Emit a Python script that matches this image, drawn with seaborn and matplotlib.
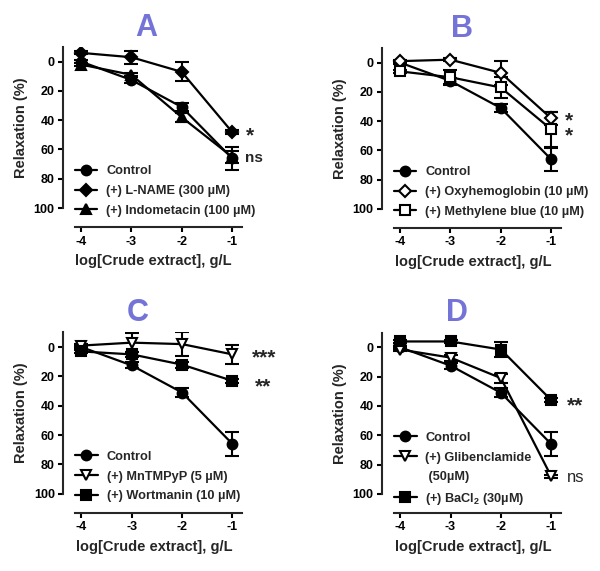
import numpy as np
import pandas as pd
import matplotlib
matplotlib.use('Agg')
import matplotlib.pyplot as plt
from matplotlib.lines import Line2D
import seaborn as sns

# ------------------------------------------------------------
# data
# ------------------------------------------------------------
log_conc = [-4, -3, -2, -1]

control = [0, 12.5, 31, 66]
control_err = [1, 2, 3, 8]

# panel A
lname = [-6, -3, 7, 48]
lname_err = [1, 4.5, 6.5, 1.5]
indomet = [2, 9, 38, 65]
indomet_err = [1, 1, 3, 4]

# panel B
oxyhb = [-1, -2, 7, 38]
oxyhb_err = [1, 1, 8, 4.5]
methblue = [6, 10, 17, 45.5]
methblue_err = [1, 5, 7.5, 12]

# panel C
mntmpyp = [-1, -3, -2, 5]
mntmpyp_err = [1, 6.5, 8, 6.5]
wortmanin = [3, 5, 12, 23]
wortmanin_err = [1, 1.5, 2, 1.5]

# panel D
glib = [1.5, 7, 21, 88]
glib_err = [1, 2, 3, 1]
bacl2 = [-4, -4, 1.5, 36]
bacl2_err = [1, 1, 5, 1.5]

yticks = [0, 20, 40, 60, 80, 100]

sns.set_style('ticks')
plt.rcParams['font.family'] = ['Liberation Sans', 'DejaVu Sans']
plt.rcParams['font.weight'] = 'bold'
plt.rcParams['axes.unicode_minus'] = False
plt.rcParams['mathtext.fontset'] = 'custom'
plt.rcParams['mathtext.rm'] = 'Liberation Sans:bold'
plt.rcParams['mathtext.bf'] = 'Liberation Sans:bold'

TITLE_COL = '#7474d8'

fig = plt.figure(figsize=(6, 5.71), dpi=100)

# axes boxes in figure fraction
boxes = {
    'A': [0.105, 0.6357, 0.3027, 0.282],
    'B': [0.6367, 0.634, 0.3027, 0.282],
    'C': [0.1055, 0.1354, 0.3027, 0.2825],
    'D': [0.637, 0.1349, 0.3027, 0.2825],
}
title_x = {'A': 0.457, 'B': 0.44, 'C': 0.41, 'D': 0.41}


def draw_series(ax, y, err, marker, filled, label):
    df = pd.DataFrame({'x': log_conc, 'y': y})
    ax.errorbar(log_conc, y, yerr=err, fmt='none', ecolor='black',
                elinewidth=1.5, capsize=5, capthick=1.5, zorder=2)
    sns.lineplot(data=df, x='x', y='y', ax=ax, color='black', lw=1.6,
                 marker=marker, markersize=7 if marker != 'D' else 6.5,
                 markerfacecolor='black' if filled else 'white',
                 markeredgecolor='black', markeredgewidth=1.5,
                 label=label, zorder=3)


def style_axes(ax, letter):
    ax.set_xlim(-4.358, -0.75)
    ax.set_ylim(100, -10)
    ax.set_yticks(yticks)
    ax.set_xticks(log_conc)
    ax.set_xticklabels(['-4', '-3', '-2', '-1'])
    for s in ['top', 'right']:
        ax.spines[s].set_visible(False)
    ax.spines['left'].set_linewidth(1.5)
    ax.spines['bottom'].set_linewidth(1.5)
    ax.spines['bottom'].set_position(('outward', 13.7))
    ax.spines['bottom'].set_bounds(-4.12, -0.8)
    ax.tick_params(direction='out', length=3.6, width=1.5, labelsize=9,
                   pad=2.5, colors='black')
    for t in ax.get_xticklabels() + ax.get_yticklabels():
        t.set_fontweight('bold')
    ax.set_ylabel('Relaxation (%)', fontsize=10.5, fontweight='bold', labelpad=4)
    ax.set_xlabel('log[Crude extract], g/L', fontsize=10.5, fontweight='bold',
                  labelpad=5)
    ax.text(title_x[letter], 1.07, letter, transform=ax.transAxes,
            ha='center', va='baseline', fontsize=22, fontweight='bold',
            color=TITLE_COL)


def add_legend(ax, top, handles=None, labels=None):
    if handles is None:
        handles, labels = ax.get_legend_handles_labels()
    ax.legend(handles, labels, loc='upper left', bbox_to_anchor=(0.066, top),
              frameon=False, handlelength=1.75, handletextpad=0.7,
              labelspacing=0.6, borderaxespad=0, borderpad=0,
              prop={'weight': 'bold', 'size': 9.2})


# ---------------- A ----------------
axA = fig.add_axes(boxes['A'])
draw_series(axA, control, control_err, 'o', True, 'Control')
draw_series(axA, lname, lname_err, 'D', True, '(+) L-NAME (300 µM)')
draw_series(axA, indomet, indomet_err, '^', True, '(+) Indometacin (100 µM)')
style_axes(axA, 'A')
add_legend(axA, 0.265)
axA.text(-0.64, 51, '*', fontsize=15, fontweight='bold', ha='center',
         va='center', clip_on=False)
axA.text(-0.74, 66, 'ns', fontsize=11, fontweight='bold', ha='left',
         va='center', clip_on=False)

# ---------------- B ----------------
axB = fig.add_axes(boxes['B'])
draw_series(axB, control, control_err, 'o', True, 'Control')
draw_series(axB, oxyhb, oxyhb_err, 'D', False, '(+) Oxyhemoglobin (10 µM)')
draw_series(axB, methblue, methblue_err, 's', False, '(+) Methylene blue (10 µM)')
style_axes(axB, 'B')
add_legend(axB, 0.265)
axB.text(-0.64, 45, '*\n*', fontsize=15, fontweight='bold', ha='center',
         va='center', linespacing=0.75, clip_on=False)

# ---------------- C ----------------
axC = fig.add_axes(boxes['C'])
draw_series(axC, control, control_err, 'o', True, 'Control')
draw_series(axC, mntmpyp, mntmpyp_err, 'v', False, '(+) MnTMPyP (5 µM)')
draw_series(axC, wortmanin, wortmanin_err, 's', True, '(+) Wortmanin (10 µM)')
style_axes(axC, 'C')
add_legend(axC, 0.265)
axC.text(-0.36, 7.5, '***', fontsize=15, fontweight='bold', ha='center',
         va='center', clip_on=False)
axC.text(-0.40, 27.5, '**', fontsize=15, fontweight='bold', ha='center',
         va='center', clip_on=False)

# ---------------- D ----------------
axD = fig.add_axes(boxes['D'])
draw_series(axD, control, control_err, 'o', True, 'Control')
draw_series(axD, glib, glib_err, 'v', False, '(+) Glibenclamide')
draw_series(axD, bacl2, bacl2_err, 's', True, '(+) BaCl$_2$ (30µM)')
style_axes(axD, 'D')
h, l = axD.get_legend_handles_labels()
blank = Line2D([], [], linestyle='none')
add_legend(axD, 0.385, [h[0], h[1], blank, h[2]],
           [l[0], l[1], ' (50µM)', l[2]])
axD.text(-0.52, 40, '**', fontsize=15, fontweight='bold', ha='center',
         va='center', clip_on=False)
axD.text(-0.52, 89, 'ns', fontsize=12, fontweight='normal', ha='center',
         va='center', clip_on=False)

fig.savefig('out.png', dpi=100)
